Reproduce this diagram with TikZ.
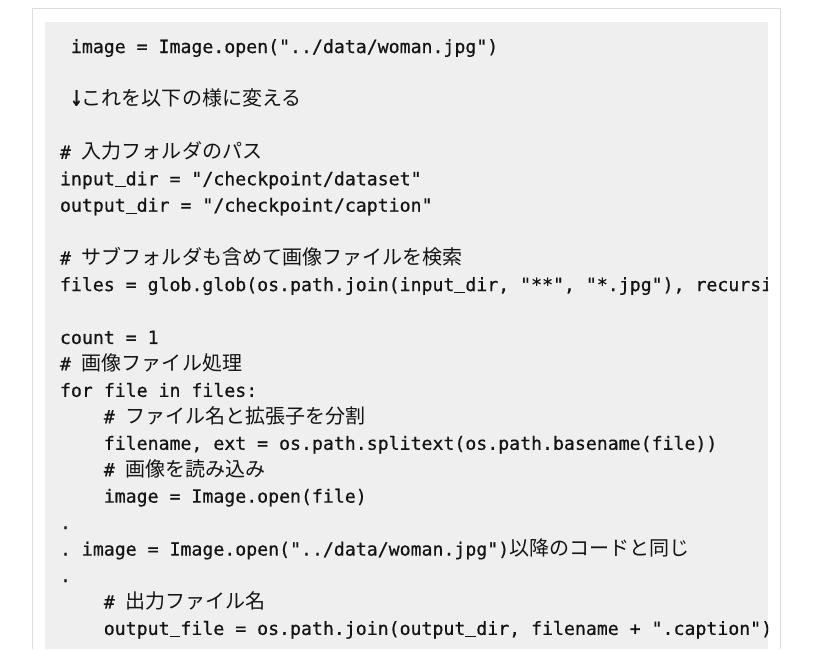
\documentclass[tikz,border=0pt]{standalone}
\usepackage{fontspec}
\setmonofont{DejaVu Sans Mono}[FakeBold=0.6]
\newfontfamily\jpfont{Noto Sans CJK JP}[Scale=1.1]
\usetikzlibrary{positioning}
\definecolor{codebg}{RGB}{239,239,239}
\definecolor{framegray}{RGB}{221,221,221}
\definecolor{codetext}{RGB}{20,20,20}
\newcommand{\jp}[1]{{\jpfont #1}}
\newcommand{\us}{\rule[-2.2pt]{10.95pt}{1.3pt}}
\newcommand{\downarr}{\makebox[10.95pt]{\scalebox{1.15}[1.6]{↓}}}

\begin{document}
\begin{tikzpicture}[x=1pt,y=-1pt,every node/.style={inner sep=0,outer sep=0},
    codeline/.style={anchor=base west,text=codetext,font=\ttfamily\fontsize{18.2}{26}\selectfont}]
	\useasboundingbox[fill=white] (0,0) rectangle (816,649);
	% frame and code box
	\coordinate (fbl) at (32.5,649);
	\coordinate (ftl) at (32.5,8.5);
	\coordinate (ftr) at (780.5,8.5);
	\coordinate (fbr) at (780.5,649);
	\draw[framegray,line width=1pt] (fbl) -- (ftl) -- (ftr) -- (fbr);
	\fill[codebg] (45,22) rectangle (768,649);
	\begin{scope}
	\clip (45,22) rectangle (768,649);
	\node[codeline] (l0) at (70.95,53) {image = Image.open("../data/woman.jpg")};
	\node[codeline] (l2) at (70.95,105.9) {\downarr\jp{これを以下の様に変える}};
	\node[codeline] (l4) at (60,158.8) {\# \jp{入力フォルダのパス}};
	\node[codeline] (l5) at (60,185.25) {input\us dir = "/checkpoint/dataset"};
	\node[codeline] (l6) at (60,211.7) {output\us dir = "/checkpoint/caption"};
	\node[codeline] (l8) at (60,264.6) {\# \jp{サブフォルダも含めて画像ファイルを検索}};
	\node[codeline] (l9) at (60,291.05) {files = glob.glob(os.path.join(input\us dir, "**", "*.jpg"), recursive=True)};
	\node[codeline] (l11) at (60,343.95) {count = 1};
	\node[codeline] (l12) at (60,370.4) {\# \jp{画像ファイル処理}};
	\node[codeline] (l13) at (60,396.85) {for file in files:};
	\node[codeline] (l14) at (103.8,423.3) {\# \jp{ファイル名と拡張子を分割}};
	\node[codeline] (l15) at (103.8,449.75) {filename, ext = os.path.splitext(os.path.basename(file))};
	\node[codeline] (l16) at (103.8,476.2) {\# \jp{画像を読み込み}};
	\node[codeline] (l17) at (103.8,502.65) {image = Image.open(file)};
	\node[codeline] (l18) at (60,529.1) {.};
	\node[codeline] (l19) at (60,555.55) {. image = Image.open("../data/woman.jpg")\jp{以降のコードと同じ}};
	\node[codeline] (l20) at (60,582) {.};
	\node[codeline] (l21) at (103.8,608.45) {\# \jp{出力ファイル名}};
	\node[codeline] (l22) at (103.8,634.9) {output\us file = os.path.join(output\us dir, filename + ".caption")};
	\end{scope}
\end{tikzpicture}
\end{document}
